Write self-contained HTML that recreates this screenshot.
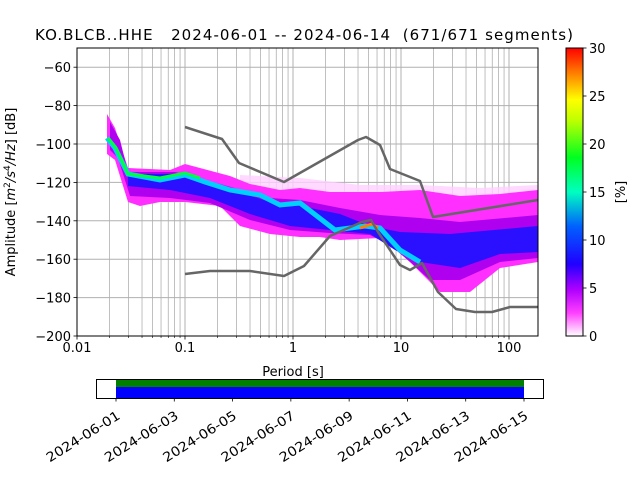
<!DOCTYPE html>
<html><head><meta charset="utf-8"><style>
html,body{margin:0;padding:0;background:#fff;width:640px;height:480px;overflow:hidden}
text{font-family:"DejaVu Sans","Liberation Sans",sans-serif;fill:#000}
</style></head><body>
<svg id="s" width="640" height="480" viewBox="0 0 640 480" xmlns="http://www.w3.org/2000/svg">
<defs>
<linearGradient id="cb" x1="0" y1="1" x2="0" y2="0">
<stop offset="0" stop-color="#ffffff"/>
<stop offset="0.08" stop-color="#ff40ff"/>
<stop offset="0.16" stop-color="#b000ff"/>
<stop offset="0.25" stop-color="#2000ff"/>
<stop offset="0.38" stop-color="#0060ff"/>
<stop offset="0.5" stop-color="#00ffc0"/>
<stop offset="0.62" stop-color="#00ff20"/>
<stop offset="0.75" stop-color="#c0ff00"/>
<stop offset="0.82" stop-color="#ffff00"/>
<stop offset="0.9" stop-color="#ff9000"/>
<stop offset="1" stop-color="#ff0000"/>
</linearGradient>
<clipPath id="ax"><rect x="77" y="48" width="461" height="288"/></clipPath>
</defs>
<text x="35" y="40" font-size="15" textLength="538" lengthAdjust="spacing" xml:space="preserve">KO.BLCB..HHE   2024-06-01 -- 2024-06-14  (671/671 segments)</text>
<g id="grid"></g>
<g clip-path="url(#ax)">
<polygon fill="#ffd0ff" opacity="0.8" points="240,175 300,178 360,185 420,185 480,188 538,185 538,195 480,200 420,195 360,195 300,195 240,185"/>
<polygon fill="#ff30ff" points="107,114 115,128 128,168 170,170 185,164 230,176 250,184 280,190 300,188 330,192 380,192 420,190 460,196 500,194 538,190 538,262 500,268 470,292 440,292 420,272 400,252 380,238 340,240 320,237 300,237 270,234 240,226 220,206 185,202 160,202 140,206 128,202 115,160 107,154"/>
<polygon fill="#b000f0" points="110,122 120,140 128,172 175,172 220,184 270,198 300,200 340,208 380,215 420,218 460,222 538,215 538,258 500,262 460,280 430,280 410,262 390,245 370,235 330,233 290,230 250,220 210,203 170,198 130,196 118,158 110,150"/>
<polygon fill="#2a10ff" points="128,174 180,174 220,186 270,202 300,206 340,214 370,226 400,232 450,234 538,226 538,252 500,254 460,268 420,262 395,250 370,234 330,230 290,226 250,214 210,198 170,190 128,186"/>
<polyline fill="none" stroke="#00d0ff" stroke-width="5" points="107,138 115,148 128,174 160,180 185,175 205,182 230,190 260,195 280,205 300,203 335,230 365,226 380,228 400,250 420,262"/>
<polyline fill="none" stroke="#00ff40" stroke-width="3" points="108,138 116,148 128,174 160,178 185,173 200,178"/>
<polyline fill="none" stroke="#ff8000" stroke-width="3" points="360,228 372,224 378,228"/>
<polyline fill="none" stroke="#666" stroke-width="2.5" stroke-linejoin="round" points="185,127 222,139 239,163 284,182 358,140 366,137 380,145 390,169 420,181 433,217 538,200"/>
<polyline fill="none" stroke="#666" stroke-width="2.5" stroke-linejoin="round" points="185,274 210,271 250,271 284,276 304,266 330,236 362,222 371,220 378,232 400,265 410,270 422,263 438,292 456,309 475,312 492,312 510,307 538,307"/>
</g>
<rect x="77" y="48" width="461" height="288" fill="none" stroke="#000" stroke-width="1"/>
<g id="ticks"></g>
<text x="293" y="376" font-size="13" text-anchor="middle">Period [s]</text>
<text transform="translate(15,192) rotate(-90)" font-size="13" text-anchor="middle">Amplitude [<tspan font-style="italic">m</tspan><tspan font-size="9" dy="-5">2</tspan><tspan dy="5" font-style="italic">/s</tspan><tspan font-size="9" dy="-5">4</tspan><tspan dy="5" font-style="italic">/Hz</tspan>] [dB]</text>
<rect x="566" y="48" width="17" height="288" fill="url(#cb)" stroke="#000" stroke-width="1"/>
<text transform="translate(625,192) rotate(-90)" font-size="13" text-anchor="middle">[%]</text>
<rect x="116" y="379" width="408" height="8" fill="#008000"/>
<rect x="116" y="387" width="408" height="11" fill="#0000ff"/>
<rect x="96.5" y="379.5" width="447" height="19" fill="none" stroke="#000"/>
</svg>
<script>
var ns="http://www.w3.org/2000/svg";
function el(p,t,a,txt){var e=document.createElementNS(ns,t);for(var k in a)e.setAttribute(k,a[k]);if(txt!=null)e.textContent=txt;p.appendChild(e);return e;}
var g=document.getElementById('grid'),tk=document.getElementById('ticks');
function X(p){return 77+108*(Math.log10(p)+2);}
for(var d=-2;d<=2;d++){for(var m=1;m<10;m++){var p=m*Math.pow(10,d),x=X(p);if(x<77||x>538)continue;
el(g,'line',{x1:x,x2:x,y1:48,y2:336,stroke:'#b0b0b0','stroke-width':m==1?1:0.8});
el(tk,'line',{x1:x,x2:x,y1:336,y2:m==1?339.5:338,stroke:'#000','stroke-width':m==1?0.8:0.6});
if(m==1)el(tk,'text',{x:x,y:352,'font-size':'13','text-anchor':'middle'},[0.01,0.1,1,10,100][d+2]);}}
for(var db=-60;db>=-200;db-=20){var y=48+(-50-db)*1.92;
el(g,'line',{x1:77,x2:538,y1:y,y2:y,stroke:'#b0b0b0','stroke-width':1});
el(tk,'line',{x1:73.5,x2:77,y1:y,y2:y,stroke:'#000','stroke-width':0.8});
el(tk,'text',{x:71,y:y+5,'font-size':'13','text-anchor':'end'},'\u2212'+(-db));}
for(var i=0;i<=6;i++){var y=336-i*48;el(tk,'line',{x1:583,x2:586.5,y1:y,y2:y,stroke:'#000','stroke-width':0.8});
el(tk,'text',{x:589,y:y+5,'font-size':'13'},i*5);}
var dates=['01','03','05','07','09','11','13','15'];
for(var i=0;i<8;i++){var x=116+i*408/7;el(tk,'line',{x1:x,x2:x,y1:398,y2:401.5,stroke:'#000','stroke-width':0.8});
el(tk,'text',{transform:'translate('+(x+5)+',418) rotate(-32)','font-size':'13','text-anchor':'end',textLength:'84',lengthAdjust:'spacingAndGlyphs'},'2024-06-'+dates[i]);}
</script>
</body></html>
